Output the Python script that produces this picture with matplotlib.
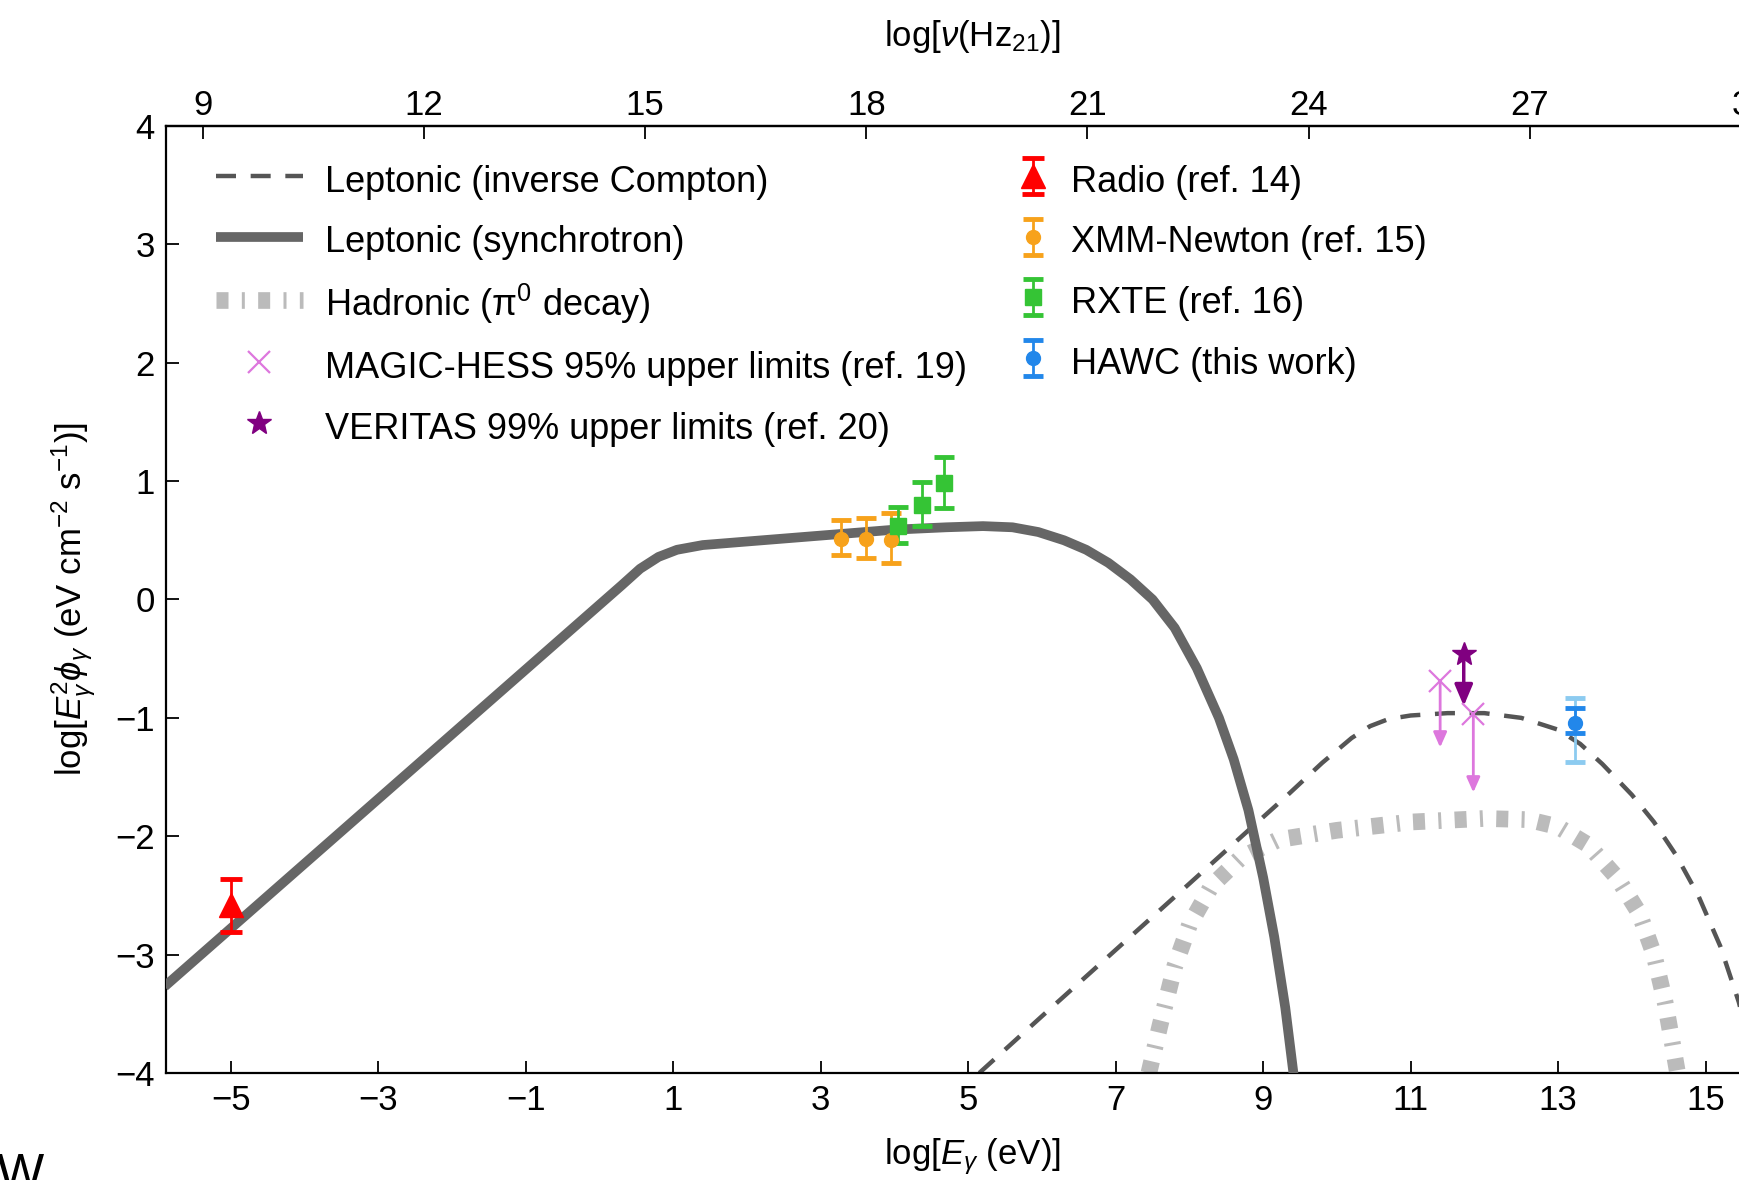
import matplotlib
matplotlib.use('Agg')
import matplotlib.pyplot as plt
import numpy as np

plt.rcParams['font.family'] = ['Liberation Sans', 'DejaVu Sans']
plt.rcParams['mathtext.fontset'] = 'custom'
plt.rcParams['mathtext.rm'] = 'Liberation Sans'
plt.rcParams['mathtext.it'] = 'Liberation Sans:italic'
plt.rcParams['mathtext.bf'] = 'Liberation Sans:bold'

# model curves (log E [eV], log E^2 phi)
sync_x = [-5.9, 0.3, 0.55, 0.8, 1.05, 1.4, 2.0, 3.0, 4.0, 4.7, 5.2, 5.6, 5.95, 6.3,
          6.6, 6.9, 7.2, 7.5, 7.8, 8.1, 8.4, 8.6, 8.8, 9.0, 9.15, 9.3, 9.42]
sync_y = [-3.27, 0.12, 0.26, 0.36, 0.42, 0.46, 0.49, 0.54, 0.59, 0.61, 0.62, 0.61,
          0.57, 0.50, 0.42, 0.31, 0.17, 0.0, -0.24, -0.58, -1.0, -1.35, -1.78,
          -2.35, -2.85, -3.45, -4.05]

ic_x = [5.15, 6.0, 7.0, 8.0, 8.8, 9.3, 9.8, 10.2, 10.45, 10.7, 11.0, 11.5, 12.0,
        12.5, 13.0, 13.3, 13.6, 14.0, 14.3, 14.6, 14.9, 15.2, 15.45, 15.7]
ic_y = [-4.0, -3.52, -2.96, -2.4, -1.95, -1.67, -1.38, -1.17, -1.07, -1.01, -0.98,
        -0.96, -0.96, -1.0, -1.1, -1.22, -1.39, -1.65, -1.88, -2.16, -2.5, -2.93,
        -3.4, -4.0]

had_x = [7.45, 7.6, 7.8, 8.0, 8.3, 8.7, 9.2, 10.0, 11.0, 12.0, 12.6, 13.0, 13.4,
         13.8, 14.1, 14.3, 14.45, 14.55, 14.62]
had_y = [-4.0, -3.6, -3.1, -2.75, -2.42, -2.18, -2.03, -1.95, -1.88, -1.85, -1.86,
         -1.92, -2.07, -2.35, -2.65, -3.0, -3.4, -3.75, -4.0]

# data points
radio_x = [-5.0]
radio_y = [-2.58]
radio_lo = [-2.81]
radio_hi = [-2.36]

xmm_x = [3.27, 3.61, 3.95]
xmm_y = [0.51, 0.51, 0.50]
xmm_lo = [0.38, 0.35, 0.31]
xmm_hi = [0.67, 0.69, 0.73]

rxte_x = [4.05, 4.37, 4.67]
rxte_y = [0.62, 0.80, 0.98]
rxte_lo = [0.48, 0.62, 0.77]
rxte_hi = [0.785, 0.99, 1.20]

hawc_x = [13.23]
hawc_y = [-1.045]
hawc_stat_lo = [-1.13]
hawc_stat_hi = [-0.92]
hawc_sys_lo = [-1.37]
hawc_sys_hi = [-0.83]

magic_x = [11.40, 11.85]
magic_y = [-0.69, -0.97]
magic_tip = [-1.25, -1.63]

veritas_x = [11.72]
veritas_y = [-0.46]
veritas_tip = [-0.90]

x_ticks = [-5, -3, -1, 1, 3, 5, 7, 9, 11, 13, 15]
y_ticks = [-4, -3, -2, -1, 0, 1, 2, 3, 4]
nu_ticks = [9, 12, 15, 18, 21, 24, 27, 30]
LOG_E_TO_NU = 14.383  # log10(1 eV / h) in Hz


def yerr(y, lo, hi):
    y, lo, hi = map(np.asarray, (y, lo, hi))
    return [y - lo, hi - y]


fig = plt.figure(figsize=(17.4, 11.8), dpi=100)
ax = fig.add_axes([0.0954, 0.0907, 0.9272, 0.8025])

# models
ax.plot(had_x, had_y, color='#bbbbbb', lw=12, dashes=(0.72, 0.8, 0.18, 0.8),
        dash_capstyle='butt', zorder=1, label='Hadronic ($\\mathrm{\\pi}^0$ decay)')
ax.plot(ic_x, ic_y, color='#555555', lw=3.2, dashes=(4.5, 3.3), zorder=2,
        label='Leptonic (inverse Compton)')
ax.plot(sync_x, sync_y, color='#666666', lw=7, solid_capstyle='butt',
        solid_joinstyle='round', zorder=3, label='Leptonic (synchrotron)')

# data
eb_kw = dict(ls='none', elinewidth=2, capthick=3.5, zorder=5)
ax.errorbar(radio_x, radio_y, yerr=yerr(radio_y, radio_lo, radio_hi), fmt='^',
            color='red', ms=17, capsize=8, label='Radio (ref. 14)', **eb_kw)
ax.errorbar(xmm_x, xmm_y, yerr=yerr(xmm_y, xmm_lo, xmm_hi), fmt='o',
            color='#f7a21b', ms=10, capsize=7, label='XMM-Newton (ref. 15)', **eb_kw)
ax.errorbar(rxte_x, rxte_y, yerr=yerr(rxte_y, rxte_lo, rxte_hi), fmt='s',
            color='#35c435', ms=11, capsize=7, label='RXTE (ref. 16)', **eb_kw)
ax.errorbar(hawc_x, hawc_y, yerr=yerr(hawc_y, hawc_sys_lo, hawc_sys_hi), fmt='none',
            ecolor='#8ccbf0', capsize=7, **eb_kw)
ax.errorbar(hawc_x, hawc_y, yerr=yerr(hawc_y, hawc_stat_lo, hawc_stat_hi), fmt='o',
            color='#2287ea', ms=10, capsize=7, label='HAWC (this work)', **eb_kw)

# upper limits
for x0, y0, yt in zip(magic_x, magic_y, magic_tip):
    ax.annotate('', xy=(x0, yt), xytext=(x0, y0), zorder=4,
                arrowprops=dict(arrowstyle='-|>,head_length=0.9,head_width=0.4',
                                color='#dd77dd', lw=2, shrinkA=0, shrinkB=0))
ax.plot(magic_x, magic_y, 'x', color='#dd77dd', ms=16, mew=1.6, ls='none', zorder=5,
        label='MAGIC-HESS 95% upper limits (ref. 19)')
for x0, y0, yt in zip(veritas_x, veritas_y, veritas_tip):
    ax.annotate('', xy=(x0, yt), xytext=(x0, y0), zorder=4,
                arrowprops=dict(arrowstyle='-|>,head_length=1.3,head_width=0.55',
                                color='#800080', lw=2.5, shrinkA=0, shrinkB=0))
ax.plot(veritas_x, veritas_y, '*', color='#800080', ms=18, ls='none', zorder=5,
        label='VERITAS 99% upper limits (ref. 20)')

ax.set_xlim(-5.88, 16.0)
ax.set_ylim(-4, 4)
ax.set_xticks(x_ticks)
ax.set_yticks(y_ticks)
ax.tick_params(direction='in', length=9, width=1.3, labelsize=25, pad=8,
               top=False, right=False)
for side in ('left', 'bottom', 'top'):
    ax.spines[side].set_linewidth(1.6)
ax.set_xlabel('log[$E_{\\gamma}$ (eV)]', fontsize=25, labelpad=14)
ax.set_ylabel('log[$E_{\\gamma}^{2}\\phi_{\\gamma}$ (eV cm$^{-2}$ s$^{-1}$)]',
              fontsize=25, labelpad=12)

top = ax.secondary_xaxis('top', functions=(lambda e: e + LOG_E_TO_NU,
                                           lambda n: n - LOG_E_TO_NU))
top.set_xticks(nu_ticks)
top.tick_params(direction='in', length=9, width=1.3, labelsize=25, pad=3)
top.spines['top'].set_linewidth(1.6)
top.set_xlabel('log[$\\nu$(Hz$_{21}$)]', fontsize=25, labelpad=31)

handles, labels = ax.get_legend_handles_labels()
lut = dict(zip(labels, handles))
left_labels = ['Leptonic (inverse Compton)', 'Leptonic (synchrotron)',
               'Hadronic ($\\mathrm{\\pi}^0$ decay)',
               'MAGIC-HESS 95% upper limits (ref. 19)',
               'VERITAS 99% upper limits (ref. 20)']
right_labels = ['Radio (ref. 14)', 'XMM-Newton (ref. 15)', 'RXTE (ref. 16)',
                'HAWC (this work)']
leg_kw = dict(loc='upper left', frameon=False, fontsize=26, handleheight=1.3,
              labelspacing=0.58, borderpad=0, borderaxespad=0, numpoints=1)
leg1 = fig.legend([lut[l] for l in left_labels], left_labels,
                  bbox_to_anchor=(216 / 1740, 1 - 160 / 1180),
                  handlelength=2.4, handletextpad=0.62, **leg_kw)
leg2 = fig.legend([lut[l] for l in right_labels], right_labels,
                  bbox_to_anchor=(1019 / 1740, 1 - 160 / 1180),
                  handlelength=0.8, handletextpad=0.65, **leg_kw)

fig.text(-0.002, -0.008, 'W', fontsize=36, ha='left', va='baseline')

fig.savefig('out.png', dpi=100)
